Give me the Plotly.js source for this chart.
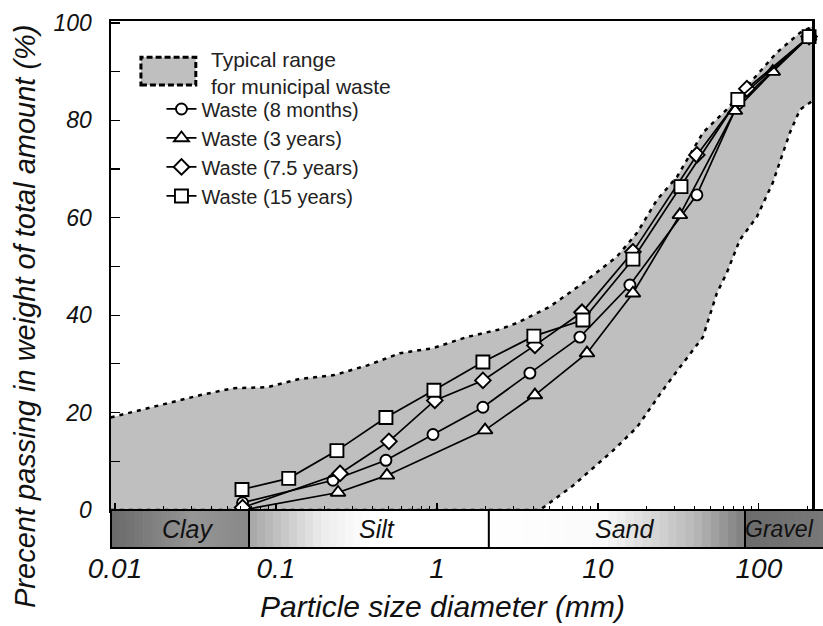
<!DOCTYPE html>
<html><head><meta charset="utf-8">
<script src="https://cdn.plot.ly/plotly-3.0.1.min.js"></script>
<style>html,body{margin:0;padding:0;background:#fff;}</style>
</head><body><div id="chart" style="width:823px;height:626px;"></div>
<script>
// ---- data ----
const seriesNames = ['Waste (8 months)', 'Waste (3 years)', 'Waste (7.5 years)', 'Waste (15 years)'];
const months8X = [0.062, 0.226, 0.482, 0.945, 1.93, 3.78, 7.73, 15.8, 41.2, 74, 205];
const months8Y = [1.5, 6.1, 10.2, 15.5, 21.1, 28.1, 35.5, 46.2, 64.7, 83.4, 97.2];
const years3X = [0.062, 0.243, 0.489, 1.99, 4.06, 8.55, 16.5, 32.3, 71, 122, 205];
const years3Y = [0.0, 3.6, 7.1, 16.4, 23.6, 32.2, 44.5, 60.6, 82.0, 90.0, 97.2];
const years75X = [0.062, 0.25, 0.503, 0.97, 1.93, 4.06, 7.96, 16.5, 41.2, 84.2, 205];
const years75Y = [0.5, 7.5, 14.1, 22.5, 26.6, 33.8, 40.6, 53.0, 72.9, 86.5, 97.2];
const years15X = [0.0615, 0.12, 0.239, 0.482, 0.958, 1.93, 4.0, 8.07, 16.5, 32.8, 74, 205];
const years15Y = [4.2, 6.5, 12.2, 19.0, 24.6, 30.4, 35.7, 39.0, 51.5, 66.4, 84.3, 97.2];

const upperX = [0.0094, 0.021, 0.034, 0.054, 0.088, 0.14, 0.23, 0.37, 0.59, 0.94, 1.53, 2.46, 3.14, 5.0, 8.1, 13.1, 17.5, 23.3, 31, 45, 63, 92, 129, 180, 215];
const upperY = [19.0, 21.9, 23.6, 25.0, 25.2, 26.9, 27.7, 29.7, 32.2, 33.2, 35.5, 37.1, 38.4, 41.7, 46.6, 52.0, 56.9, 63.7, 68.4, 77.5, 82.2, 88.4, 93.9, 98.0, 99.3];
const lowerX = [0.0094, 4.36, 7.0, 12.4, 17.5, 25.3, 33.7, 44.9, 54.8, 63.2, 76.2, 97.2, 122, 156, 180, 215];
const lowerY = [0, 0, 5.0, 12.2, 17.0, 24.6, 30.1, 35.5, 44.5, 48.7, 55.5, 60.2, 67.2, 77.5, 82.2, 84.0];

const xTickVals = [0.01, 0.1, 1, 10, 100];
const xTickText = ['0.01', '0.1', '1', '10', '100'];
const yTickVals = [0, 10, 20, 30, 40, 50, 60, 70, 80, 90, 100];
const yTickText = ['0', '', '20', '', '40', '', '60', '', '80', '', '100'];

const xTitle = 'Particle size diameter (mm)';
const yTitle = 'Precent passing in weight of total amount (%)';
const soilNames = ['Clay', 'Silt', 'Sand', 'Gravel'];
const soilEdges = [0.0094, 0.068, 2.1, 82, 260];

// ---- styling / layout ----
const FONT = 'Liberation Sans, Arial, sans-serif';
const xRange = [-2.025, 2.33];
const yRange = [0, 100.4];
const bandH = 0.0777;
function px(v) { return (Math.log10(v) - xRange[0]) / (xRange[1] - xRange[0]); }

const zoneGrad = [
  [[0, 105], [0.6, 150], [1, 135]],
  [[0, 165], [0.3, 235], [0.5, 255], [1, 255]],
  [[0, 255], [0.45, 250], [0.8, 185], [1, 125]],
  [[0, 108], [1, 120]]
];
const labelShift = [8, 8, 8, -5];
function gval(stops, t) {
  for (let i = 1; i < stops.length; i++) {
    if (t <= stops[i][0]) {
      const a = stops[i - 1], b = stops[i];
      return a[1] + (b[1] - a[1]) * (t - a[0]) / (b[0] - a[0]);
    }
  }
  return stops[stops.length - 1][1];
}

const shapes = [];
const N = 30;
for (let z = 0; z < soilNames.length; z++) {
  const p0 = Math.max(0, px(soilEdges[z])), p1 = px(soilEdges[z + 1]);
  for (let k = 0; k < N; k++) {
    const t = (k + 0.5) / N;
    const g = Math.round(gval(zoneGrad[z], t));
    shapes.push({type: 'rect', xref: 'paper', yref: 'paper', layer: 'above',
      x0: p0 + (p1 - p0) * k / N, x1: p0 + (p1 - p0) * (k + 1) / N + 0.001,
      y0: -bandH, y1: 0, fillcolor: `rgb(${g},${g},${g})`, line: {width: 0}});
  }
}
shapes.push({type: 'rect', xref: 'paper', yref: 'paper', layer: 'above', x0: 0, x1: px(soilEdges[4]),
  y0: -bandH, y1: 0, line: {color: 'black', width: 2}});
for (let z = 1; z < soilNames.length; z++) {
  shapes.push({type: 'line', xref: 'paper', yref: 'paper', layer: 'above', x0: px(soilEdges[z]), x1: px(soilEdges[z]),
    y0: -bandH, y1: 0, line: {color: 'black', width: 2}});
}
// legend swatch for typical range
shapes.push({type: 'rect', xref: 'paper', yref: 'paper', x0: 0.0427, x1: 0.121, y0: 0.869, y1: 0.926,
  fillcolor: '#bfbfbf', line: {color: 'black', width: 3, dash: '6px,3px'}});

const annotations = soilNames.map((n, z) => {
  const c = (Math.max(0, px(soilEdges[z])) + Math.min(px(soilEdges[z + 1]), 1.0157)) / 2;
  return {text: n, xref: 'paper', yref: 'paper', x: c, y: -bandH / 2, xshift: labelShift[z], showarrow: false,
    xanchor: 'center', yanchor: 'middle', font: {family: FONT, size: z === 3 ? 23 : 25, style: 'italic', color: '#111'}};
});
annotations.push({text: 'Typical range', xref: 'paper', yref: 'paper', x: 0.1396, y: 0.922, xanchor: 'left', yanchor: 'middle',
  showarrow: false, font: {family: FONT, size: 21, color: '#222'}});
annotations.push({text: 'for municipal waste', xref: 'paper', yref: 'paper', x: 0.1396, y: 0.866, xanchor: 'left', yanchor: 'middle',
  showarrow: false, font: {family: FONT, size: 21, color: '#222'}});
// axis titles
annotations.push({text: xTitle, xref: 'paper', yref: 'paper', x: 0.473, y: -0.198, xanchor: 'center', yanchor: 'middle',
  showarrow: false, font: {family: FONT, size: 30, style: 'italic', color: '#111'}});
annotations.push({text: yTitle, xref: 'paper', yref: 'paper', x: -0.1225, y: 0.397, xanchor: 'center', yanchor: 'middle',
  textangle: -90, showarrow: false, font: {family: FONT, size: 29, style: 'italic', color: '#111'}});

const boundLine = {color: 'black', width: 2.5, dash: '4px,5px'};
const traces = [
  {x: lowerX, y: lowerY, mode: 'lines', line: boundLine, showlegend: false, hoverinfo: 'skip'},
  {x: upperX, y: upperY, mode: 'lines', line: boundLine, fill: 'tonexty', fillcolor: '#bfbfbf', showlegend: false, hoverinfo: 'skip'}
];
const sx = [months8X, years3X, years75X, years15X];
const sy = [months8Y, years3Y, years75Y, years15Y];
const sym = ['circle', 'triangle-up', 'diamond', 'square'];
const siz = [11, 13, 12, 13];
for (let i = 0; i < 4; i++) {
  traces.push({x: sx[i], y: sy[i], name: seriesNames[i], legendgroup: 'g' + i, mode: 'lines+markers', cliponaxis: false,
    line: {color: 'black', width: 1.7},
    marker: {symbol: sym[i], size: siz[i], color: 'white', line: {color: 'black', width: 1.9}}});
}

const minorVals = [];
[0.01, 0.1, 1, 10, 100].forEach(d => { for (let m = 2; m <= 9; m++) minorVals.push(d * m); });

const layout = {
  width: 823, height: 626,
  margin: {l: 111, r: 11, t: 21, b: 116},
  paper_bgcolor: 'white', plot_bgcolor: 'white',
  showlegend: true,
  legend: {x: 0.072, y: 0.86, xanchor: 'left', yanchor: 'top', bgcolor: 'rgba(0,0,0,0)',
    traceorder: 'grouped', tracegroupgap: 0,
    font: {family: FONT, size: 20, color: '#222'}},
  xaxis: {type: 'log', range: xRange, tickmode: 'array', tickvals: xTickVals, ticktext: xTickText,
    ticks: 'inside', ticklen: 7, tickwidth: 1.2, tickcolor: 'black', showgrid: false, zeroline: false,
    showline: true, linewidth: 2.5, linecolor: 'black', mirror: true,
    tickfont: {family: FONT, size: 28, style: 'italic', color: '#111'}, ticklabelstandoff: 32,
    minor: {tickmode: 'array', tickvals: minorVals, ticks: 'inside', ticklen: 4, tickwidth: 1, tickcolor: 'black', showgrid: false}},
  yaxis: {range: yRange, tickmode: 'array', tickvals: yTickVals, ticktext: yTickText,
    ticks: 'inside', ticklen: 9, tickwidth: 1.2, tickcolor: 'black', showgrid: false, zeroline: false,
    showline: true, linewidth: 2.5, linecolor: 'black', mirror: true,
    tickfont: {family: FONT, size: 23, style: 'italic', color: '#111'}, ticklabelstandoff: 12},
  shapes: shapes,
  annotations: annotations
};

Plotly.newPlot('chart', traces, layout, {displayModeBar: false, staticPlot: true});
</script></body></html>
